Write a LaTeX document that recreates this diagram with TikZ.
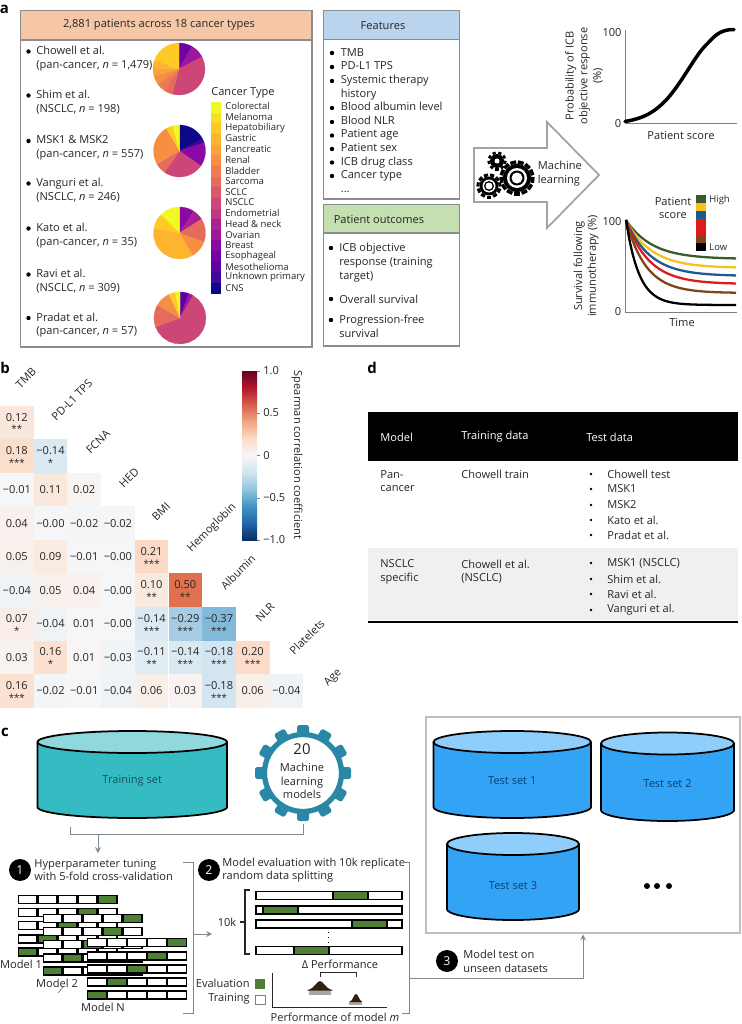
\documentclass[tikz,border=0pt]{standalone}
\usepackage{fontspec}
\setmainfont{Open Sans}
\usetikzlibrary{positioning}

\definecolor{txtc}{HTML}{262626}
\definecolor{boxline}{HTML}{8C8C8C}
\definecolor{connc}{HTML}{7C8790}
\definecolor{peach}{HTML}{F6C7A6}
\definecolor{skyhead}{HTML}{B9D4EC}
\definecolor{greenhead}{HTML}{C4E0B1}
\definecolor{foldgreen}{HTML}{4F7F35}
\definecolor{tealbody}{HTML}{35BCC3}
\definecolor{tealtop}{HTML}{8FD8DC}
\definecolor{tealtext}{HTML}{12505F}
\definecolor{bluebody}{HTML}{33A4F5}
\definecolor{bluetop}{HTML}{8FCDFA}
\definecolor{bluetext}{HTML}{0C3F73}
\definecolor{gearteal}{HTML}{2A87A5}
\definecolor{hmzero}{HTML}{F7F7F7}
\definecolor{hmredlow}{HTML}{FCDCC8}
\definecolor{hmred}{HTML}{E0704E}
\definecolor{hmbluelow}{HTML}{CFE3F0}
\definecolor{hmblue}{HTML}{74B2D6}
\definecolor{p1}{HTML}{F0F921}
\definecolor{p2}{HTML}{F8DF25}
\definecolor{p3}{HTML}{FDCA26}
\definecolor{p4}{HTML}{FDB42F}
\definecolor{p5}{HTML}{FBA238}
\definecolor{p6}{HTML}{F68F44}
\definecolor{p7}{HTML}{EE7B51}
\definecolor{p8}{HTML}{E56B5D}
\definecolor{p9}{HTML}{D8576B}
\definecolor{p10}{HTML}{CC4778}
\definecolor{p11}{HTML}{BD3786}
\definecolor{p12}{HTML}{A82296}
\definecolor{p13}{HTML}{9C179E}
\definecolor{p14}{HTML}{8B0AA5}
\definecolor{p15}{HTML}{7301A8}
\definecolor{p16}{HTML}{5C01A6}
\definecolor{p17}{HTML}{41049D}
\definecolor{p18}{HTML}{0D0887}
\definecolor{kmgreen}{HTML}{3D5A2A}
\definecolor{kmyellow}{HTML}{F6C21C}
\definecolor{kmblue}{HTML}{1F5A8C}
\definecolor{kmred}{HTML}{E0191F}
\definecolor{kmbrown}{HTML}{7F4512}

\pgfdeclareverticalshading{rdbubar}{100bp}{
	color(0bp)=(rgb,255:red,5;green,48;blue,97);
	color(25bp)=(rgb,255:red,5;green,48;blue,97);
	color(30bp)=(rgb,255:red,33;green,102;blue,172);
	color(35bp)=(rgb,255:red,67;green,147;blue,195);
	color(40bp)=(rgb,255:red,146;green,197;blue,222);
	color(45bp)=(rgb,255:red,209;green,229;blue,240);
	color(50bp)=(rgb,255:red,247;green,247;blue,247);
	color(55bp)=(rgb,255:red,253;green,219;blue,199);
	color(60bp)=(rgb,255:red,244;green,165;blue,130);
	color(65bp)=(rgb,255:red,214;green,96;blue,77);
	color(70bp)=(rgb,255:red,178;green,24;blue,43);
	color(75bp)=(rgb,255:red,103;green,0;blue,31);
	color(100bp)=(rgb,255:red,103;green,0;blue,31)
}

\tikzset{
	lbl/.style={font=\fontsize{6.3}{7.8}\selectfont,text=txtc,inner sep=0pt,align=left},
	lblc/.style={lbl,align=center},
	smalllbl/.style={font=\fontsize{5.4}{7}\selectfont,text=txtc,inner sep=0pt,align=left},
	paneltag/.style={font=\fontsize{8.5}{9}\selectfont\bfseries,text=black,inner sep=0pt},
	panelbox/.style={draw=boxline,line width=1pt},
	axisline/.style={draw=gray,line width=0.5pt},
	conn/.style={draw=connc,line width=0.5pt},
	cylline/.style={draw=black,line width=1pt},
	numdisc/.style={circle,fill=black,text=white,minimum size=12.5pt,inner sep=0pt,
		font=\fontsize{7}{8}\selectfont},
	foldline/.style={draw=black,line width=0.85pt}
}

% data cylinder: name, left, right, top, bottom, y radius, body, lid, text colour, label
\newcommand{\cyloffset}{6.5}
\newcommand{\datasetcyl}[9]{
	\draw[cylline,fill=#6] (#1,#3) -- plot[domain=180:0,samples=45] ({(#1+#2)/2+(#2-#1)/2*cos(\x)},{#4+#5*sin(\x)}) -- (#2,#3);
	\draw[cylline,fill=#7] ({(#1+#2)/2},#3) circle[x radius={(#2-#1)/2},y radius=#5];
	\node[lbl,text=#8] (#9) at ({(#1+#2)/2},{(#3+#4)/2+\cyloffset}) {\csname cyl#9\endcsname};
}
\newcommand{\cyltrain}{Training set}
\newcommand{\cyltesta}{Test set 1}
\newcommand{\cyltestb}{Test set 2}
\newcommand{\cyltestc}{Test set 3}

% pie slices: centre x, centre y, list of start/end/colour, clockwise from the top
\newcommand{\cohortpie}[3]{
	\foreach \a/\b/\c in {#3}
		\fill[p\c,draw=p\c,line width=0.1pt] (#1,#2) -- plot[domain=\a:\b,samples=16] ({#1+26*sin(\x)},{#2-26*cos(\x)}) -- cycle;
}

% small black gear: x, y, body radius, tip radius, teeth
\newcommand{\blackgear}[5]{
	\fill[black] (#1,#2) circle (#3);
	\foreach \t in {1,...,#5}
		\fill[black,shift={(#1,#2)},rotate={\t*360/#5}] ({-0.17*#4},#3) rectangle ({0.17*#4},#4);
}

% one stack of five folds
\newcommand{\foldstack}[2]{
	\foreach \row/\ev in {0/5,1/4,2/3,3/2,4/1}
		\foreach \seg in {1,...,5} {
			\pgfmathtruncatemacro\isev{\seg==\ev}
			\ifnum\isev=1
				\draw[foldline,fill=foldgreen] ({#1+(\seg-1)*20},{#2+\row*13.1-4}) rectangle ++(18.8,8);
			\else
				\draw[foldline,fill=white] ({#1+(\seg-1)*20},{#2+\row*13.1-4}) rectangle ++(18.8,8);
			\fi
		}
}

\begin{document}
\begin{tikzpicture}[x=0.02cm,y=-0.02cm]
	\useasboundingbox (0,0) rectangle (741,1024);
	\fill[white] (0,0) rectangle (741,1024);

	% panel a, cohorts
	\node[paneltag] (taga) at (4.5,9) {a};
	\draw[panelbox] (20.5,10.5) rectangle (312,347);
	\draw[panelbox,fill=peach] (20.5,10.5) rectangle (312,40);
	\node[lbl] (cohorthead) at (159,25) {2,881 patients across 18 cancer types};

	\foreach \y/\nm/\ln/\sub in {
		58.5/chowell/{Chowell et al.}/{pan-cancer, \textit{n} = 1,479},
		102.5/shim/{Shim et al.}/{NSCLC, \textit{n} = 198},
		148/msk/{MSK1 \& MSK2}/{pan-cancer, \textit{n} = 557},
		190.5/vanguri/{Vanguri et al.}/{NSCLC, \textit{n} = 246},
		235.5/kato/{Kato et al.}/{pan-cancer, \textit{n} = 35},
		281.5/ravi/{Ravi et al.}/{NSCLC, \textit{n} = 309},
		325/pradat/{Pradat et al.}/{pan-cancer, \textit{n} = 57}} {
		\fill[black] (28.5,\y-7) circle (2.2);
		\node[lbl,anchor=west] (\nm) at (36,\y) {\ln\\(\sub)};
	}

	\cohortpie{179}{69}{0/30/15,30/62/13,62/195/10,195/215/8,215/235/7,235/255/6,255/272/5,272/290/4,290/360/3}
	\cohortpie{179.5}{151}{0/62/18,62/72/17,72/125/14,125/215/10,215/240/8,240/330/6,330/345/3,345/360/1}
	\cohortpie{179.5}{233}{0/33/14,33/58/12,58/110/8,110/150/6,150/280/4,280/315/3,315/360/1}
	\cohortpie{180}{318}{0/20/16,20/30/13,30/250/10,250/300/8,300/335/6,335/350/3,350/360/1}

	\node[lbl,anchor=west,font=\fontsize{6.3}{8}\selectfont] (legendhead) at (211,93) {Cancer Type};
	\foreach \i/\nm in {1/Colorectal,2/Melanoma,3/Hepatobiliary,4/Gastric,5/Pancreatic,6/Renal,7/Bladder,8/Sarcoma,9/SCLC,10/NSCLC,11/Endometrial,12/Head \& neck,13/Ovarian,14/Breast,15/Esophageal,16/Mesothelioma,17/Unknown primary,18/CNS} {
		\fill[p\i] (211,{102+(\i-1)*10.65}) rectangle ++(10,10.7);
		\node[smalllbl,anchor=west] (leg\i) at (225,{106.3+(\i-1)*10.7}) {\nm};
	}

	% panel a, features and outcomes
	\draw[panelbox] (323.5,10.5) rectangle (459.5,199);
	\draw[panelbox,fill=skyhead] (323.5,10.5) rectangle (459.5,39.5);
	\node[lbl] (feathead) at (383,25.5) {Features};
	\foreach \y in {53,67,81,108,122,135.5,149,162.5,176}
		\fill[black] (332,\y) circle (2.2);
	\node[lbl,anchor=north west,font=\fontsize{6.3}{7.75}\selectfont] (featlist) at (340.5,48) {TMB\\PD-L1 TPS\\Systemic therapy\\history\\Blood albumin level\\Blood NLR\\Patient age\\Patient sex\\ICB drug class\\Cancer type\\...};

	\draw[panelbox] (323.5,204.5) rectangle (459.5,346);
	\draw[panelbox,fill=greenhead] (323.5,204.5) rectangle (459.5,233);
	\node[lbl] (outcomehead) at (379,219.5) {Patient outcomes};
	\foreach \y in {248,299,320}
		\fill[black] (331,\y) circle (2.2);
	\node[lbl,anchor=north west] (objresp) at (339,243) {ICB objective\\response (training\\target)};
	\node[lbl,anchor=west] (ossurv) at (339,299) {Overall survival};
	\node[lbl,anchor=north west] (pfsurv) at (339,315) {Progression-free\\survival};

	% panel a, machine learning arrow
	\draw[draw=boxline!80,line width=1pt,fill=white] (474,148) -- (547,148) -- (547,122) -- (599,175) -- (547,228) -- (547,202) -- (474,202) -- cycle;
	\blackgear{497}{161}{7}{9.5}{9}
	\fill[white] (497,161) circle (2.5);
	\blackgear{517}{178}{14}{17.5}{13}
	\fill[white] (517,178) circle (10);
	\fill[black] (517,178) circle (7.5);
	\fill[white] (517,178) circle (5.5);
	\blackgear{489}{186}{9.5}{12.5}{11}
	\fill[white] (489,186) circle (6.5);
	\fill[black] (489,186) circle (5);
	\fill[white] (489,186) circle (3.5);
	\node[lbl,anchor=west] (mltext) at (537.5,173.5) {Machine\\learning};

	% panel a, response curve
	\coordinate (probtop) at (625,30);
	\coordinate (proborig) at (625,123);
	\coordinate (probend) at (737,123);
	\draw[axisline] (probtop) -- (proborig) -- (probend);
	\draw[black,line width=2pt,line cap=round] (625,121.5) .. controls (645,118) and (655,112) .. (668,98) .. controls (685,78) and (695,55) .. (708,43) .. controls (716,34) and (722,29.5) .. (734,29.5);
	\node[lbl] (prob100) at (612,33) {100};
	\node[lbl] (prob0) at (618,124) {0};
	\node[lbl] (probx) at (681,135) {Patient score};
	\node[lblc,rotate=90] (proby) at (584,76) {Probability of ICB\\objective response\\(\%)};

	% panel a, survival curves
	\coordinate (survtop) at (625,220);
	\coordinate (survorig) at (625,312);
	\coordinate (survend) at (737,312);
	\draw[axisline] (survtop) -- (survorig) -- (survend);
	\foreach \col/\yend/\tc in {kmgreen/259/26,kmyellow/268/25,kmblue/276/24,kmred/284/23,kmbrown/293/20,black/305/13}
		\draw[\col,line width=1.3pt] plot[smooth,domain=0:110,samples=35] ({626+\x},{\yend+(220-\yend)*exp(-\x/\tc)});
	\node[lbl] (surv100) at (612,222) {100};
	\node[lbl] (surv0) at (618,312) {0};
	\node[lbl] (survx) at (682,322) {Time};
	\node[lblc,rotate=90] (survy) at (586,266) {Survival following\\immunotherapy (\%)};
	\foreach \i/\col in {0/kmgreen,1/kmyellow,2/kmblue,3/kmred,4/kmred,5/kmbrown,6/black}
		\fill[\col] (696,{195+\i*8.03}) rectangle ++(10,8.1);
	\node[lblc] (scorehead) at (673,208) {Patient\\score};
	\node[smalllbl,anchor=west] (scorehigh) at (709,200) {High};
	\node[smalllbl,anchor=west] (scorelow) at (709,247) {Low};

	% panel b
	\node[paneltag] (tagb) at (5,368) {b};
	\foreach \r/\c/\p/\t/\n in {
		1/1/12/0.12/2,
		2/1/18/0.18/3, 2/2/-14/−0.14/1,
		3/1/-1/−0.01/0, 3/2/11/0.11/0, 3/3/2/0.02/0,
		4/1/4/0.04/0, 4/2/-1/−0.00/0, 4/3/-2/−0.02/0, 4/4/-2/−0.02/0,
		5/1/5/0.05/0, 5/2/9/0.09/0, 5/3/-1/−0.01/0, 5/4/-1/−0.00/0, 5/5/21/0.21/3,
		6/1/-4/−0.04/0, 6/2/5/0.05/0, 6/3/4/0.04/0, 6/4/-1/−0.00/0, 6/5/10/0.10/2, 6/6/50/0.50/2,
		7/1/7/0.07/1, 7/2/-4/−0.04/0, 7/3/1/0.01/0, 7/4/-1/−0.00/0, 7/5/-14/−0.14/3, 7/6/-29/−0.29/3, 7/7/-37/−0.37/3,
		8/1/3/0.03/0, 8/2/16/0.16/1, 8/3/1/0.01/0, 8/4/-3/−0.03/0, 8/5/-11/−0.11/2, 8/6/-14/−0.14/3, 8/7/-18/−0.18/3, 8/8/20/0.20/3,
		9/1/16/0.16/3, 9/2/-2/−0.02/0, 9/3/-1/−0.01/0, 9/4/-4/−0.04/0, 9/5/6/0.06/0, 9/6/3/0.03/0, 9/7/-18/−0.18/3, 9/8/6/0.06/0, 9/9/-4/−0.04/0} {
		\pgfmathtruncatemacro\lowpct{min(100,abs(\p)*5)}
		\pgfmathtruncatemacro\redpct{max(0,(\p-20)*100/30)}
		\pgfmathtruncatemacro\bluepct{min(100,max(0,(-\p-20)*100/20))}
		\ifnum\p<0
			\ifnum\p<-20 \colorlet{cellc}{hmblue!\bluepct!hmbluelow}\else \colorlet{cellc}{hmbluelow!\lowpct!hmzero}\fi
		\else
			\ifnum\p>20 \colorlet{cellc}{hmred!\redpct!hmredlow}\else \colorlet{cellc}{hmredlow!\lowpct!hmzero}\fi
		\fi
		\pgfmathsetmacro\cx{(\c-1)*33.7}
		\pgfmathsetmacro\cy{405.7+(\r-1)*33.55}
		\fill[cellc] (\cx,\cy) rectangle ++(33.6,33.5);
		\ifnum\n=0
			\node[lbl] (cell-\r-\c) at ({\cx+16.8},{\cy+16.8}) {\t};
		\else
			\node[lbl] (cell-\r-\c) at ({\cx+16.8},{\cy+11.5}) {\t};
			\node[lbl,font=\fontsize{5.5}{6}\selectfont] (star-\r-\c) at ({\cx+16.8},{\cy+23.5}) {\ifcase\n\or *\or **\or ***\fi};
		\fi
	}
	\foreach \nm/\x/\y/\txt in {h1/26/378/TMB,h2/72/400/PD-L1 TPS,h3/98/442/FCNA,h4/129/478/HED,h5/161/512/BMI,h6/212/528/Hemoglobin,h7/238/572/Albumin,h8/265/612/NLR,h9/307/637/Platelets,h10/333/678/Age}
		\node[lbl,rotate=45] (\nm) at (\x,\y) {\txt};

	\shade[shading=rdbubar] (242,371) rectangle (257,540);
	\foreach \y/\txt/\nm in {371/1.0/bar1,413/0.5/bar2,455.5/0/bar3,498/−0.5/bar4,540/−1.0/bar5} {
		\draw[gray,line width=0.4pt] (257,\y) -- (260,\y);
		\node[lbl,anchor=west] (\nm) at (263,\y) {\txt};
	}
	\node[lbl,rotate=-90] (bartitle) at (297,455) {Spearman correlation coefficient};

	% panel d
	\node[paneltag] (tagd) at (372,368) {d};
	\fill[black] (368,412) rectangle (738,461);
	\fill[black!6] (368,548) rectangle (738,620);
	\draw[black,line width=1.1pt] (368,622) -- (738,622);
	\foreach \x/\nm/\txt in {380/thmodel/Model,461/thtrain/Training data,586/thtest/Test data}
		\node[lbl,anchor=west,text=white] (\nm) at (\x,437) {\txt};
	\node[lbl,anchor=north west] (rowpan) at (380,470) {Pan-\\cancer};
	\node[lbl,anchor=north west] (trainpan) at (461,470) {Chowell train};
	\node[lbl,anchor=north west] (rownsclc) at (380,559.5) {NSCLC\\specific};
	\node[lbl,anchor=north west] (trainnsclc) at (461,559.5) {Chowell et al.\\(NSCLC)};
	\foreach \y/\nm/\txt in {474/tpa/Chowell test,489/tpb/MSK1,505/tpc/MSK2,520/tpd/Kato et al.,535/tpe/Pradat et al.,563/tna/MSK1 (NSCLC),579/tnb/Shim et al.,594/tnc/Ravi et al.,610/tnd/Vanguri et al.} {
		\fill[black] (591,\y) circle (1.3);
		\node[lbl,anchor=west] (\nm) at (607,\y) {\txt};
	}

	% panel c, training set and models
	\node[paneltag] (tagc) at (5,732) {c};
	\datasetcyl{37.5}{227}{742}{807}{11}{tealbody}{tealtop}{tealtext}{train}
	\foreach \a in {0,30,...,330}
		\fill[gearteal,shift={(303,773)},rotate=\a,rounded corners=1pt] (-6,36) rectangle (6,48);
	\draw[gearteal,line width=3pt,fill=white] (303,773) circle (38.5);
	\node[lblc,font=\fontsize{8.5}{10}\selectfont] (mltwenty) at (302,749) {20};
	\node[lblc] (mlmodels) at (302,781) {Machine\\learning\\models};

	\coordinate (traintail) at (70,827);
	\coordinate (geartail) at (303,824);
	\coordinate (joinleft) at (70,834);
	\coordinate (joinright) at (303,834);
	\coordinate (joinarrow) at (98,834);
	\coordinate (stepone) at (98,853);
	\draw[conn] (traintail) -- (joinleft) -- (joinright) -- (geartail);
	\draw[conn,-stealth] (joinarrow) -- (stepone);

	% step 1
	\node[numdisc] (discone) at (20,870) {1};
	\node[lbl,anchor=west] (stepone-text) at (34,870) {Hyperparameter tuning\\with 5-fold cross-validation};
	\foldstack{18.3}{899.5}
	\foldstack{43.3}{918.5}
	\foldstack{87.7}{942.7}
	\node[lbl] (modelone) at (21,964) {Model 1};
	\node[lbl] (modeltwo) at (57,983) {Model 2};
	\draw[gray,line width=0.4pt] (58,993) -- (63,987);
	\node[lbl] (modelthree) at (103,1007) {Model N};

	\coordinate (brkonea) at (183,862);
	\coordinate (brkoneb) at (193,862);
	\coordinate (brkonec) at (193,1013);
	\coordinate (brkoned) at (183,1013);
	\coordinate (brkonemid) at (193,934);
	\coordinate (brkonetip) at (212,934);
	\draw[conn] (brkonea) -- (brkoneb) -- (brkonec) -- (brkoned);
	\draw[conn,-stealth] (brkonemid) -- (brkonetip);

	% step 2
	\node[numdisc] (disctwo) at (209,870) {2};
	\node[lbl,anchor=west] (steptwo-text) at (222,870) {Model evaluation with 10k replicate\\random data splitting};
	\foreach \y/\a/\b in {895.7/333/368,910/263/298,924/352/387,950.3/294/329} {
		\draw[foldline,fill=white] (256,\y-4) rectangle (402,\y+4);
		\draw[foldline,fill=foldgreen] (\a,\y-4) rectangle (\b,\y+4);
	}
	\draw[black,line width=0.8pt,dotted] (328.5,932) -- (328.5,942);
	\draw[draw=txtc,line width=0.6pt] (250,890) -- (245,890) -- (245,954) -- (250,954);
	\draw[draw=txtc,line width=0.6pt] (245,922) -- (240,922);
	\node[lbl] (tenk) at (227,922) {10k};
	\node[lbl] (deltaperf) at (340,964) {Δ Performance};
	\draw[draw=txtc,line width=0.5pt] (320,977) -- (320,972) -- (356,972) -- (356,977);
	\node[lbl,anchor=east] (evallabel) at (250,983) {Evaluation};
	\node[lbl,anchor=east] (trainlabel) at (250,999) {Training};
	\fill[foldgreen] (255,979) rectangle (265,988.5);
	\draw[gray,line width=0.5pt,fill=white] (255,995) rectangle (265,1004.5);
	\draw[draw=txtc,line width=0.5pt] (272,973) -- (272,1007) -- (387,1007);
	\fill[gray!70] (309,990) rectangle (331,995);
	\fill[black!75!brown] (307,990.5) .. controls (314,989) and (317,981) .. (320,981) .. controls (323,981) and (326,989) .. (333,990.5) -- cycle;
	\fill[gray!70] (349,1001) rectangle (362,1005);
	\fill[black!75!brown] (350,1002) .. controls (353,1000) and (354,994) .. (356,994) .. controls (358,994) and (359,1000) .. (362,1002) -- cycle;
	\node[lbl] (perfm) at (335,1017) {Performance of model \textit{m}};

	\coordinate (brktwoa) at (403,862);
	\coordinate (brktwob) at (409,862);
	\coordinate (brktwoc) at (409,1013);
	\coordinate (brktwod) at (402,1013);
	\draw[conn] (brktwoa) -- (brktwob) -- (brktwoc) -- (brktwod);

	% step 3, test sets
	\draw[draw=gray!50,line width=0.7pt] (426,717) rectangle (740,933);
	\datasetcyl{433.5}{591}{742}{807}{11}{bluebody}{bluetop}{bluetext}{testa}
	\datasetcyl{601}{734}{743.5}{810}{11}{bluebody}{bluetop}{bluetext}{testb}
	\renewcommand{\cyloffset}{9.5}
	\datasetcyl{447}{579}{844}{909}{11}{bluebody}{bluetop}{bluetext}{testc}
	\foreach \x in {647,657,669}
		\fill[black] (\x,886) circle (3);

	\coordinate (stepthree-a) at (409,978);
	\coordinate (stepthree-b) at (583,978);
	\coordinate (stepthree-c) at (583,934.5);
	\draw[conn,-stealth] (stepthree-a) -- (stepthree-b) -- (stepthree-c);
	\node[numdisc] (discthree) at (447,961) {3};
	\node[lbl,anchor=west] (stepthree-text) at (463,961) {Model test on\\unseen datasets};

\end{tikzpicture}
\end{document}
